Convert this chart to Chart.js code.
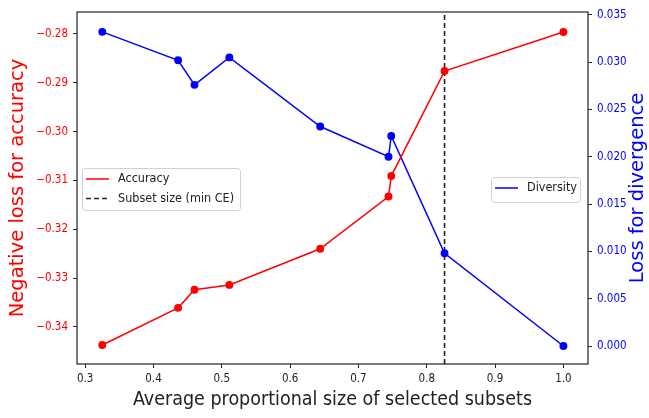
<!DOCTYPE html>
<html>
<head>
<meta charset="utf-8">
<script src="https://cdn.jsdelivr.net/npm/chart.js@4.4.1/dist/chart.umd.min.js"></script>
<style>
  html, body { margin: 0; padding: 0; background: #fff; }
  #wrap { width: 649px; height: 418px; }
</style>
</head>
<body>
<div id="wrap"><canvas id="chart" width="649" height="418"></canvas></div>
<script>
// subset sizes and the two losses measured at each size
const sizes = [0.325, 0.436, 0.460, 0.511, 0.644, 0.744, 0.748, 0.826, 1.0];
const accuracyLoss = [-0.3437, -0.3361, -0.3324, -0.3314, -0.3240, -0.3133, -0.3091, -0.2876, -0.2796];
const diversityLoss = [0.0332, 0.0302, 0.0276, 0.0305, 0.0232, 0.0200, 0.0222, 0.0098, 0.0000];
const minCeSize = 0.826;

const xRange = [0.288, 1.036];
const accRange = [-0.3476, -0.2755];
const divRange = [-0.0019, 0.0353];

const FONT = "'DejaVu Sans', sans-serif";
const NARROW = "'DejaVu Sans Condensed', 'DejaVu Sans', sans-serif";
const RED = '#ff0000';
const BLUE = '#0000ff';
const DARK = '#222222';

const toPoints = (xs, ys) => xs.map((x, i) => ({ x: x, y: ys[i] }));

// frame around the plot area, right axis label and the two legend boxes
const decorations = {
  id: 'decorations',
  afterDraw(chart) {
    const { ctx, chartArea: a } = chart;
    ctx.save();
    ctx.strokeStyle = DARK;
    ctx.lineWidth = 1.2;
    ctx.strokeRect(a.left, a.top, a.right - a.left, a.bottom - a.top);

    // right axis title reads bottom-to-top
    ctx.translate(638, (a.top + a.bottom) / 2);
    ctx.rotate(-Math.PI / 2);
    ctx.fillStyle = BLUE;
    ctx.font = '19.5px ' + FONT;
    ctx.textAlign = 'center';
    ctx.textBaseline = 'middle';
    ctx.fillText('Loss for divergence', 0, 0);
    ctx.restore();

    const ds = chart.data.datasets;
    drawLegend(ctx, 82, 168, 158, 42, [ds[0], ds[2]]);
    drawLegend(ctx, 491, 177, 89, 25, [ds[1]]);
  }
};

function drawLegend(ctx, x, y, w, h, items) {
  ctx.save();
  ctx.fillStyle = 'rgba(255,255,255,0.85)';
  ctx.strokeStyle = '#d0d0d0';
  ctx.lineWidth = 1;
  ctx.beginPath();
  ctx.roundRect(x + 0.5, y + 0.5, w, h, 3);
  ctx.fill();
  ctx.stroke();
  ctx.font = '12.5px ' + NARROW;
  ctx.textBaseline = 'middle';
  items.forEach((d, i) => {
    const cy = y + 11 + i * 19.5;
    ctx.strokeStyle = d.borderColor;
    ctx.lineWidth = 1.5;
    ctx.setLineDash(d.borderDash || []);
    ctx.beginPath();
    ctx.moveTo(x + 4, cy);
    ctx.lineTo(x + 27, cy);
    ctx.stroke();
    ctx.setLineDash([]);
    ctx.fillStyle = DARK;
    ctx.fillText(d.label, x + 36, cy);
  });
  ctx.restore();
}

new Chart(document.getElementById('chart'), {
  type: 'line',
  data: {
    datasets: [
      {
        label: 'Accuracy',
        data: toPoints(sizes, accuracyLoss),
        yAxisID: 'y',
        borderColor: RED,
        backgroundColor: RED,
        borderWidth: 1.5,
        pointRadius: 3.2,
        pointHoverRadius: 3.2,
        tension: 0,
      },
      {
        label: 'Diversity',
        data: toPoints(sizes, diversityLoss),
        yAxisID: 'y1',
        borderColor: BLUE,
        backgroundColor: BLUE,
        borderWidth: 1.5,
        pointRadius: 3.2,
        pointHoverRadius: 3.2,
        tension: 0,
      },
      {
        label: 'Subset size (min CE)',
        data: [{ x: minCeSize, y: accRange[0] }, { x: minCeSize, y: accRange[1] }],
        yAxisID: 'y',
        borderColor: DARK,
        borderWidth: 1.6,
        borderDash: [5, 3],
        pointRadius: 0,
      },
    ],
  },
  options: {
    responsive: false,
    animation: false,
    layout: { padding: { top: 12, left: 0, right: 0, bottom: 0 } },
    scales: {
      x: {
        type: 'linear',
        min: xRange[0],
        max: xRange[1],
        afterFit: (s) => { s.height = 54; },
        border: { display: false },
        grid: { drawOnChartArea: false, drawTicks: true, tickLength: 4, color: DARK },
        ticks: {
          stepSize: 0.1,
          includeBounds: false,
          padding: 4,
          color: DARK,
          font: { family: NARROW, size: 11.5 },
          callback: (v) => v.toFixed(1),
        },
        title: {
          display: true,
          text: 'Average proportional size of selected subsets',
          color: DARK,
          font: { family: NARROW, size: 19.5 },
          padding: { top: 0, bottom: 6 },
        },
      },
      y: {
        position: 'left',
        min: accRange[0],
        max: accRange[1],
        afterFit: (s) => { s.width = 77; },
        border: { display: false },
        grid: { drawOnChartArea: false, drawTicks: true, tickLength: 4, color: DARK },
        ticks: {
          stepSize: 0.01,
          includeBounds: false,
          padding: 5,
          color: RED,
          font: { family: NARROW, size: 11.5 },
          callback: (v) => v.toFixed(2).replace('-', '\u2212'),
        },
        title: {
          display: true,
          text: 'Negative loss for accuracy',
          color: RED,
          font: { family: FONT, size: 19.5 },
          padding: { top: 6, bottom: 0 },
        },
      },
      y1: {
        position: 'right',
        min: divRange[0],
        max: divRange[1],
        afterFit: (s) => { s.width = 61; },
        border: { display: false },
        grid: { drawOnChartArea: false, drawTicks: true, tickLength: 4, color: DARK },
        ticks: {
          stepSize: 0.005,
          includeBounds: false,
          padding: 5,
          color: BLUE,
          font: { family: NARROW, size: 11.5 },
          callback: (v) => Math.abs(v).toFixed(3),
        },
      },
    },
    plugins: {
      legend: { display: false },
      tooltip: { enabled: false },
    },
  },
  plugins: [decorations],
});
</script>
</body>
</html>
